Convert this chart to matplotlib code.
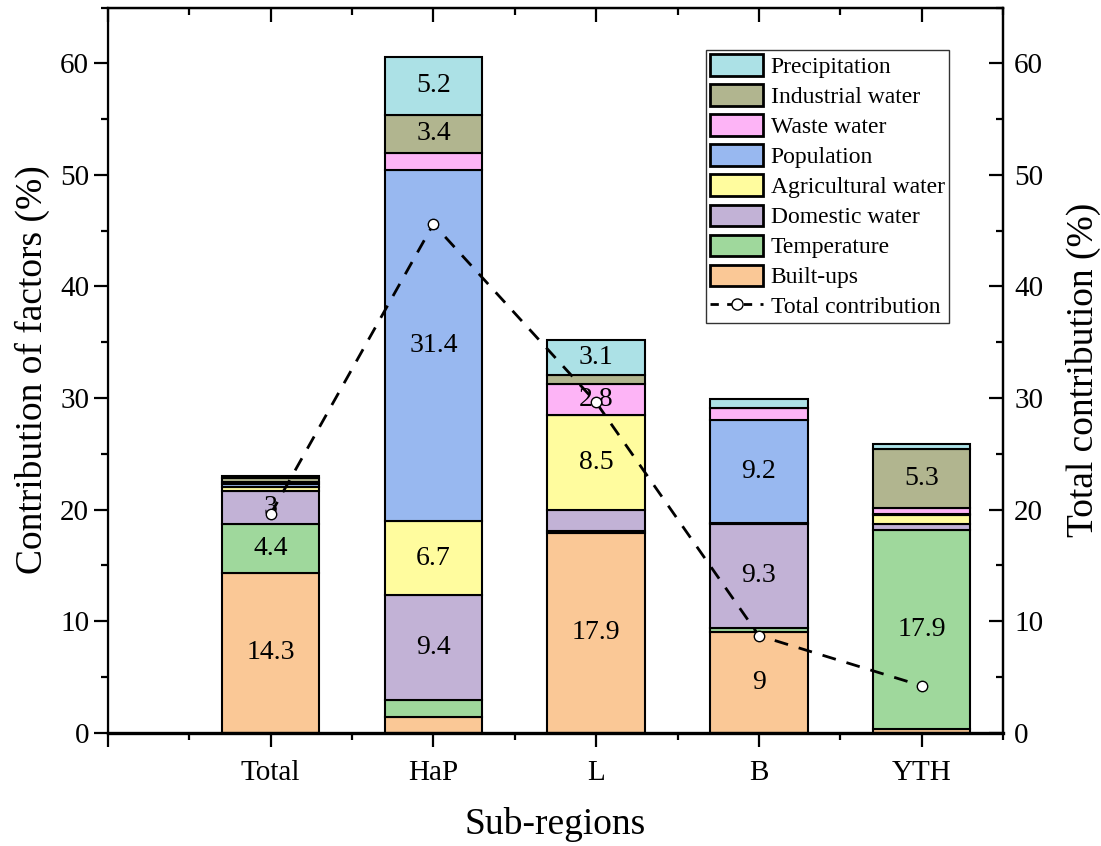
import matplotlib.pyplot as plt
from matplotlib.patches import Patch
from matplotlib.lines import Line2D
from matplotlib.ticker import MultipleLocator

plt.rcParams['font.family'] = ['Liberation Serif', 'DejaVu Serif']

regions = ['Total', 'HaP', 'L', 'B', 'YTH']
factors = ['Built-ups', 'Temperature', 'Domestic water', 'Agricultural water',
           'Population', 'Waste water', 'Industrial water', 'Precipitation']
built_ups = [14.3, 1.4, 17.9, 9.0, 0.3]
temperature = [4.4, 1.5, 0.2, 0.4, 17.9]
domestic = [3.0, 9.4, 1.9, 9.3, 0.5]
agricultural = [0.3, 6.7, 8.5, 0.1, 0.8]
population = [0.3, 31.4, 0.0, 9.2, 0.1]
waste = [0.2, 1.6, 2.8, 1.1, 0.5]
industrial = [0.3, 3.4, 0.8, 0.0, 5.3]
precipitation = [0.2, 5.2, 3.1, 0.8, 0.5]
total_contribution = [19.6, 45.6, 29.6, 8.7, 4.2]
colors = ['#FAC896', '#9FD89C', '#C2B2D6', '#FFFC9E', '#98B8F0', '#FDB4F6', '#B1B58F', '#ACE1E6']

series = [built_ups, temperature, domestic, agricultural,
          population, waste, industrial, precipitation]
x = [1, 2, 3, 4, 5]

fig, ax = plt.subplots(figsize=(11.01, 8.46), dpi=100)
fig.subplots_adjust(left=0.098, right=0.911, bottom=0.134, top=0.991)

bottom = [0.0] * 5
for name, vals, c in zip(factors, series, colors):
    ax.bar(x, vals, width=0.6, bottom=bottom, color=c, edgecolor='black',
           linewidth=1.5, label=name, zorder=2)
    for xi, v, b in zip(x, vals, bottom):
        if v >= 2.5:
            ax.text(xi, b + v / 2, f'{v:g}', ha='center', va='center',
                    fontsize=20, zorder=3)
    bottom = [b + v for b, v in zip(bottom, vals)]

ax.set_xlim(0, 5.5)
ax.set_ylim(0, 65)
ax.set_xticks([0, 1, 2, 3, 4, 5])
ax.set_xticklabels([''] + regions)
ax.xaxis.set_minor_locator(MultipleLocator(0.5))
ax.yaxis.set_major_locator(MultipleLocator(10))
ax.yaxis.set_minor_locator(MultipleLocator(5))
ax.tick_params(axis='both', which='major', labelsize=21, length=10, width=1.6,
               direction='out', top=False, right=False)
ax.tick_params(axis='both', which='minor', length=5, width=1.6,
               direction='out', top=False, right=False)
ax.tick_params(axis='x', which='major', pad=10)
for s in ax.spines.values():
    s.set_linewidth(1.6)
ax.spines['bottom'].set_linewidth(2.4)
ax.set_xlabel('Sub-regions', fontsize=27, labelpad=15)
ax.set_ylabel('Contribution of factors (%)', fontsize=27, labelpad=7)

ax2 = ax.twinx()
ax2.set_ylim(0, 65)
ax2.yaxis.set_major_locator(MultipleLocator(10))
ax2.yaxis.set_minor_locator(MultipleLocator(5))
ax2.tick_params(axis='y', which='major', labelsize=21, length=10, width=1.6, direction='in', pad=8)
ax2.tick_params(axis='y', which='minor', length=5, width=1.6, direction='in')
ax2.spines['right'].set_linewidth(1.6)
ax2.plot(x, total_contribution, color='black', linestyle=(0, (5, 4)), linewidth=2,
         marker='o', markersize=7.5, markerfacecolor='white', markeredgecolor='black',
         markeredgewidth=1, zorder=5)
ax2.set_ylabel('Total contribution (%)', fontsize=27, labelpad=16)

top = ax.secondary_xaxis('top')
top.set_xticks([0, 1, 2, 3, 4, 5])
top.xaxis.set_minor_locator(MultipleLocator(0.5))
top.tick_params(axis='x', which='both', direction='in', labeltop=False, width=1.6)
top.tick_params(axis='x', which='major', length=10)
top.tick_params(axis='x', which='minor', length=5)
top.spines['top'].set_linewidth(1.6)

handles = [Patch(facecolor=c, edgecolor='black', linewidth=2, label=n)
           for n, c in zip(factors, colors)][::-1]
handles.append(Line2D([0], [0], color='black', linestyle=(0, (3, 3)), linewidth=2,
                      marker='o', markersize=8, markerfacecolor='white',
                      markeredgecolor='black', label='Total contribution'))
leg = ax2.legend(handles=handles, loc='upper right', bbox_to_anchor=(0.94, 0.942),
                 fontsize=17, frameon=True, fancybox=False, edgecolor='black',
                 handlelength=2.25, handleheight=1.0, labelspacing=0.27,
                 handletextpad=0.3, borderpad=0.2, borderaxespad=0)
leg.get_frame().set_linewidth(1)

fig.savefig('out.png', dpi=100)
